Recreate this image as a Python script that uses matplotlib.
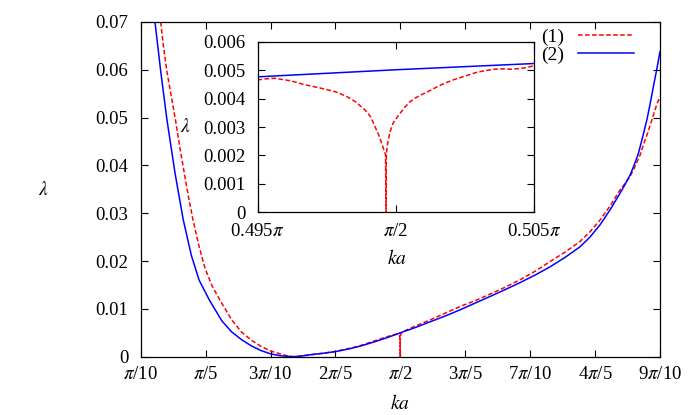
"""Lyapunov exponent lambda vs ka for two cases, with a zoom on ka = pi/2."""

import matplotlib
matplotlib.use("Agg")
import matplotlib.pyplot as plt

plt.rcParams['font.family'] = ['Liberation Serif', 'DejaVu Serif']
plt.rcParams['mathtext.fontset'] = 'stix'
plt.rcParams['font.size'] = 13.5

# main panel, x in units of pi
ka_1 = [0.1308, 0.1350, 0.1401, 0.1470, 0.1536, 0.1600, 0.1664, 0.1735, 0.1806,
        0.1900, 0.1991, 0.2100, 0.2222, 0.2402, 0.2550, 0.2700, 0.2850, 0.3000,
        0.3146, 0.3250, 0.3347, 0.3450, 0.3609, 0.3800, 0.3994, 0.4200, 0.4379,
        0.4600, 0.4800, 0.4960, 0.4985, 0.49965, 0.49965, 0.49967, 0.5008, 0.5030,
        0.5230, 0.5458, 0.5690, 0.5920, 0.6150, 0.6382, 0.6610, 0.6845, 0.7080,
        0.7307, 0.7540, 0.7769, 0.7920, 0.8077, 0.8230, 0.8385, 0.8460, 0.8539,
        0.8616, 0.8694, 0.8744, 0.8810, 0.8874, 0.8951, 0.9000]
lam_1 = [0.0700, 0.0650, 0.0599, 0.0545, 0.0495, 0.0440, 0.0390, 0.0335, 0.0286,
         0.0230, 0.0185, 0.0148, 0.0118, 0.0077, 0.0052, 0.0035, 0.0022, 0.0012,
         0.0006, 0.0002, 0.0, 0.0001, 0.0004, 0.0007, 0.0011, 0.0017, 0.0023,
         0.0033, 0.0042, 0.0048, 0.0045, 0.0036, 0.0, 0.0036, 0.0048, 0.0052,
         0.0064, 0.0077, 0.0091, 0.0105, 0.0117, 0.0131, 0.0145, 0.0161, 0.0179,
         0.0199, 0.0219, 0.0241, 0.0261, 0.0286, 0.0315, 0.0349, 0.0362, 0.0377,
         0.0398, 0.0422, 0.0443, 0.0468, 0.0495, 0.0528, 0.0544]

ka_2 = [0.1220, 0.1310, 0.1405, 0.1530, 0.1656, 0.1780, 0.1900, 0.2060, 0.2250,
        0.2400, 0.2550, 0.2700, 0.2850, 0.3000, 0.3150, 0.3347, 0.3450, 0.3609,
        0.3800, 0.3994, 0.4200, 0.4379, 0.4600, 0.4800, 0.5000, 0.5230, 0.5458,
        0.5690, 0.5920, 0.6150, 0.6382, 0.6610, 0.6845, 0.7080, 0.7307, 0.7540,
        0.7769, 0.7920, 0.8077, 0.8230, 0.8385, 0.8460, 0.8539, 0.8600, 0.8667,
        0.8730, 0.8797, 0.8850, 0.8898, 0.8950, 0.9000]
lam_2 = [0.0700, 0.0595, 0.0495, 0.0383, 0.0286, 0.0212, 0.0160, 0.0118, 0.0075,
         0.0052, 0.0036, 0.0023, 0.0013, 0.0006, 0.0002, 0.0, 0.0001, 0.0004,
         0.0007, 0.00105, 0.0016, 0.0022, 0.0031, 0.0040, 0.0050, 0.0061, 0.0073,
         0.0085, 0.0098, 0.0112, 0.0126, 0.0140, 0.0155, 0.0171, 0.0188, 0.0208,
         0.0230, 0.0250, 0.0276, 0.0307, 0.0342, 0.0360, 0.0380, 0.0400, 0.0425,
         0.0458, 0.0495, 0.0530, 0.0565, 0.0601, 0.0638]

# inset, x in units of pi
ins_ka_1 = [0.4950, 0.49530, 0.49563, 0.49620, 0.49672, 0.49725, 0.49780, 0.49820,
            0.49853, 0.49889, 0.49910, 0.49925, 0.49935, 0.49943, 0.49955, 0.49963,
            0.49965, 0.49966, 0.49970, 0.49980, 0.49991, 0.50009, 0.50033, 0.50050,
            0.50070, 0.50095, 0.50117, 0.50148, 0.50178, 0.50210, 0.50239, 0.50270,
            0.50297, 0.50330, 0.50359, 0.50390, 0.50419, 0.50445, 0.50467, 0.50500]
ins_lam_1 = [0.00466, 0.00470, 0.00472, 0.00463, 0.00449, 0.00438, 0.00425, 0.00409,
             0.00390, 0.00360, 0.00335, 0.00301, 0.00280, 0.00260, 0.00225, 0.00203,
             0.0, 0.00201, 0.00240, 0.00285, 0.00315, 0.00340, 0.00370, 0.00388,
             0.00402, 0.00415, 0.00425, 0.00441, 0.00455, 0.00467, 0.00476, 0.00486,
             0.00494, 0.00500, 0.00504, 0.00505, 0.00504, 0.00506, 0.00509, 0.00516]
ins_ka_2 = [0.4950, 0.5000, 0.5050]
ins_lam_2 = [0.00477, 0.00502, 0.00524]

main_ticks = [0.1, 0.2, 0.3, 0.4, 0.5, 0.6, 0.7, 0.8, 0.9]
main_labels = [r'$\pi$/10', r'$\pi$/5', r'3$\pi$/10', r'2$\pi$/5', r'$\pi$/2',
               r'3$\pi$/5', r'7$\pi$/10', r'4$\pi$/5', r'9$\pi$/10']
main_yticks = [0, 0.01, 0.02, 0.03, 0.04, 0.05, 0.06, 0.07]
main_ylabels = ['0', '0.01', '0.02', '0.03', '0.04', '0.05', '0.06', '0.07']
ins_ticks = [0.495, 0.5, 0.505]
ins_labels = [r'0.495$\pi$', r'$\pi$/2', r'0.505$\pi$']
ins_yticks = [0, 0.001, 0.002, 0.003, 0.004, 0.005, 0.006]
ins_ylabels = ['0', '0.001', '0.002', '0.003', '0.004', '0.005', '0.006']

W, H = 692, 415
fig = plt.figure(figsize=(W / 100, H / 100), dpi=100)

def box(x0, y0, x1, y1):
    # pixel box (top-left origin) -> figure fraction rect
    return [x0 / W, 1 - y1 / H, (x1 - x0) / W, (y1 - y0) / H]

def style(ax):
    ax.tick_params(direction='in', top=True, right=True, length=5, width=0.8)
    for s in ax.spines.values():
        s.set_linewidth(0.9)

ax = fig.add_axes(box(140.7, 22, 660, 356.7))
ax.plot(ka_1, lam_1, color='#ff0000', lw=1.1, dashes=(3, 1.6), label='(1)')
ax.plot(ka_2, lam_2, color='#0000ff', lw=1.1, label='(2)')
ax.set_xlim(0.1, 0.9)
ax.set_ylim(0, 0.07)
ax.set_xticks(main_ticks)
ax.set_xticklabels(main_labels)
ax.set_yticks(main_yticks)
ax.set_yticklabels(main_ylabels)
ax.tick_params(axis='y', pad=9)
ax.tick_params(axis='x', pad=7)
style(ax)
ax.legend(loc='upper right', bbox_to_anchor=(634 / W, 1 - 28 / H),
          bbox_transform=fig.transFigure, frameon=False, markerfirst=False,
          handlelength=2.9, handletextpad=0.67, borderpad=0, borderaxespad=0,
          labelspacing=0.05, fontsize=14)

fig.text(43 / W, 1 - 190 / H, r'$\lambda$', ha='center', va='center', fontsize=14)
fig.text(400 / W, 1 - 403 / H, r'$ka$', ha='center', va='center', fontsize=14)

ins = fig.add_axes(box(257.5, 42, 534, 212))
ins.plot(ins_ka_1, ins_lam_1, color='#ff0000', lw=1.1, dashes=(3, 1.6))
ins.plot(ins_ka_2, ins_lam_2, color='#0000ff', lw=1.1)
ins.set_xlim(0.495, 0.505)
ins.set_ylim(0, 0.006)
ins.set_xticks(ins_ticks)
ins.set_xticklabels(ins_labels)
ins.set_yticks(ins_yticks)
ins.set_yticklabels(ins_ylabels)
ins.tick_params(axis='y', pad=8.5)
ins.tick_params(axis='x', pad=8)
style(ins)

fig.text(185 / W, 1 - 127 / H, r'$\lambda$', ha='center', va='center', fontsize=14)
fig.text(397 / W, 1 - 258 / H, r'$ka$', ha='center', va='center', fontsize=14)

fig.savefig('out.png', dpi=100)
